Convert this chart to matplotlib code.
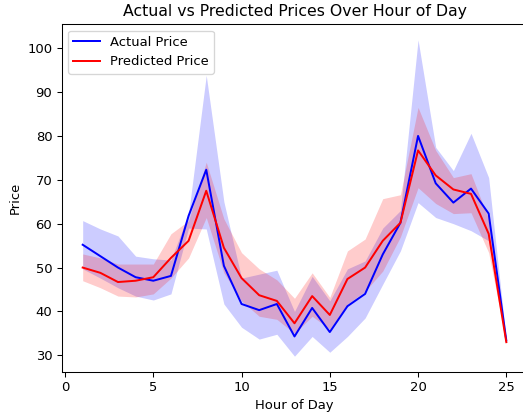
import matplotlib.pyplot as plt

# hora del dia
horas = list(range(1, 26))

# precio real: media y banda de confianza
real_media = [55.2, 52.6, 50.0, 47.8, 47.0, 48.1, 61.8, 72.3, 50.4, 41.7, 40.3, 41.7, 34.3,
              40.8, 35.3, 41.2, 44.0, 53.0, 60.2, 80.0, 69.2, 64.8, 68.0, 62.3, 33.4]
real_alto = [60.7, 58.8, 57.2, 52.6, 52.0, 51.7, 62.3, 93.8, 65.0, 47.6, 48.5, 49.4, 40.0,
             48.0, 42.4, 49.7, 51.5, 59.0, 63.0, 101.9, 77.4, 72.1, 80.6, 70.5, 33.4]
real_bajo = [49.7, 47.6, 45.4, 43.5, 42.6, 44.0, 59.0, 58.8, 41.7, 36.4, 33.7, 34.8, 29.8,
             34.3, 30.7, 34.3, 38.5, 46.2, 53.8, 64.8, 61.4, 60.0, 58.4, 56.1, 33.4]

# precio predicho: media y banda de confianza
pred_media = [50.0, 48.8, 46.7, 47.0, 47.8, 52.2, 56.1, 67.5, 54.5, 47.6, 43.7, 42.4, 37.3,
              43.5, 39.2, 47.4, 50.0, 56.1, 60.2, 76.7, 71.0, 67.8, 66.8, 57.7, 33.0]
pred_alto = [53.1, 52.2, 50.8, 50.8, 50.8, 57.7, 60.7, 74.0, 61.1, 53.4, 49.7, 47.2, 43.0,
             48.8, 43.2, 53.8, 56.5, 65.7, 66.6, 86.5, 76.7, 70.5, 71.4, 61.0, 33.0]
pred_bajo = [47.0, 45.4, 43.5, 43.3, 44.0, 47.6, 52.2, 61.4, 48.8, 42.4, 38.9, 38.2, 35.0,
             38.9, 36.0, 41.7, 44.6, 49.2, 57.0, 68.2, 64.6, 62.3, 62.5, 53.4, 33.0]

dpi = 94.5
fig = plt.figure(figsize=(523 / dpi, 414 / dpi), dpi=dpi)
ax = fig.add_axes([0.1176, 0.1014, 0.891, 0.8406])

ax.plot(horas, real_media, color='blue', label='Actual Price')
ax.fill_between(horas, real_bajo, real_alto, color='blue', alpha=0.2, linewidth=0)
ax.plot(horas, pred_media, color='red', label='Predicted Price')
ax.fill_between(horas, pred_bajo, pred_alto, color='red', alpha=0.2, linewidth=0)

ax.set_title("Actual vs Predicted Prices Over Hour of Day")
ax.set_xlabel("Hour of Day")
ax.set_ylabel("Price")
ax.legend(loc='upper left')

fig.savefig("out.png", dpi=dpi)
